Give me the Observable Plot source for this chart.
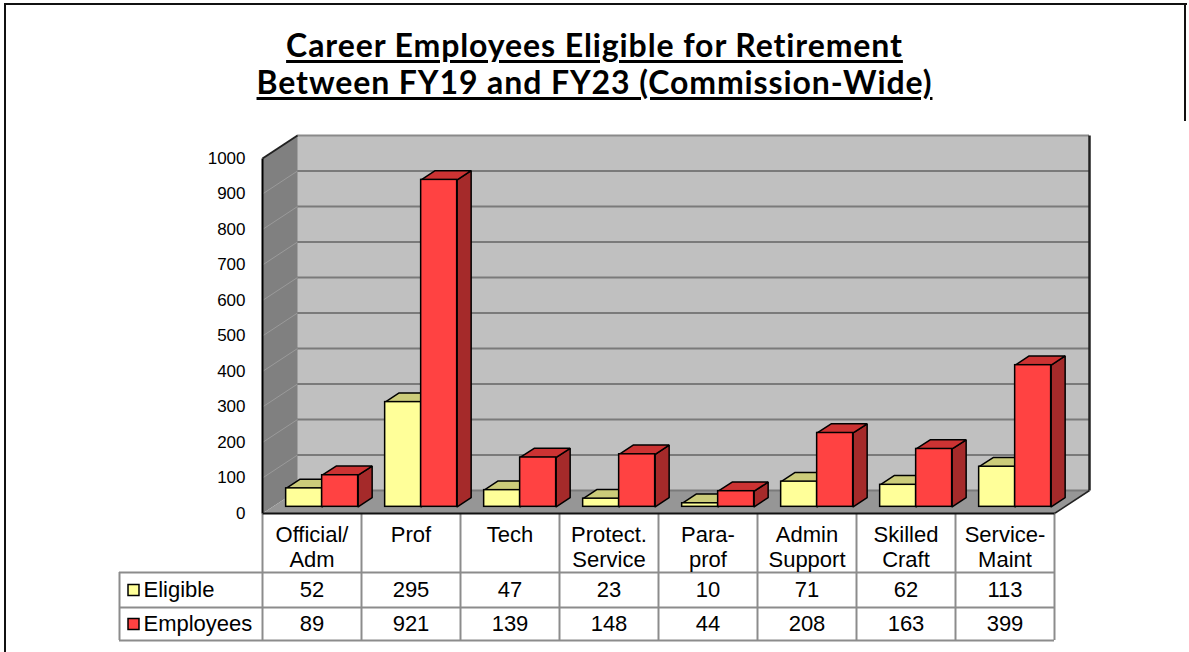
<!DOCTYPE html>
<html><head><meta charset="utf-8">
<script src="https://cdn.jsdelivr.net/npm/d3@7"></script>
<script src="https://cdn.jsdelivr.net/npm/@observablehq/plot@0.6"></script>
<style>
body{margin:0;background:#fff;}
#wrap{position:relative;width:1189px;height:652px;overflow:hidden;background:#fff;}
#frame{position:absolute;left:4px;top:3px;width:1181px;height:700px;border-left:2px solid #111;border-top:2px solid #111;}
#rframe{position:absolute;left:1184px;top:3px;width:2px;height:118px;background:#111}
#title{position:relative;height:110px;box-sizing:border-box;padding-top:26px;text-align:center;font:bold 32px Lato, sans-serif;letter-spacing:0.9px;line-height:37px;color:#000;}
#title span{text-decoration:underline;text-decoration-thickness:3px;text-underline-offset:3px}
#chart{position:relative}
</style></head>
<body><div id="wrap"><div id="frame"></div><div id="rframe"></div>
<div id="title"><span>Career Employees Eligible for Retirement</span><br><span>Between FY19 and FY23 (Commission-Wide)</span></div>
<div id="chart"></div></div>
<script>
// ---- data ----
const categories = ["Official/\nAdm","Prof","Tech","Protect.\nService","Para-\nprof","Admin\nSupport","Skilled\nCraft","Service-\nMaint"];
const seriesNames = ["Eligible","Employees"];
const eligible = [52,295,47,23,10,71,62,113];
const employees = [89,921,139,148,44,208,163,399];
const yTicks = [0,100,200,300,400,500,600,700,800,900,1000];
const seriesColors = {
  Eligible: {front:"#ffff99", top:"#cccc7a", side:"#b3b36b"},
  Employees: {front:"#ff4242", top:"#cc3333", side:"#a52a2a"}
};

// ---- 3D geometry (in scale units) ----
const pxPerUnitY = 355/1000;
const DX = 35/99, DY = 23/pxPerUnitY;     // depth of the box
const f0 = 0.29, f1 = 0.69;               // bar depth placement
const w = 36/99;                          // bar width in category units
const below = p => -p/pxPerUnitY;         // pixels below floor -> y units
const n = categories.length;
const FONT = "Arial, 'Liberation Sans', sans-serif";

function poly(pts, id){ return pts.concat([pts[0]]).map(([x,y]) => ({x,y,id})); }

const walls = {
  side: poly([[0,0],[DX,DY],[DX,1000+DY],[0,1000]],"side"),
  floor: poly([[0,0],[n,0],[n+DX,DY],[DX,DY]],"floor")
};

function barFaces(vals, s){
  const fronts=[], tops=[], sides=[];
  const b0 = f0*DY, dDX=(f1-f0)*DX, dDY=(f1-f0)*DY;
  vals.forEach((v,i)=>{
    const L = i + 0.5 - w + s*w + f0*DX;
    fronts.push({x1:L, x2:L+w, y1:b0, y2:v+b0});
    tops.push(...poly([[L,v+b0],[L+w,v+b0],[L+w+dDX,v+b0+dDY],[L+dDX,v+b0+dDY]],"t"+i));
    sides.push(...poly([[L+w,b0],[L+w+dDX,b0+dDY],[L+w+dDX,v+b0+dDY],[L+w,v+b0]],"s"+i));
  });
  return {fronts,tops,sides};
}

const barMarks = [];
[eligible, employees].forEach((vals,s)=>{
  const c = seriesColors[seriesNames[s]];
  const f = barFaces(vals,s);
  barMarks.push(
    Plot.line(f.sides,{x:"x",y:"y",z:"id",fill:c.side,stroke:"#000",strokeWidth:1.5,strokeLinejoin:"miter"}),
    Plot.line(f.tops,{x:"x",y:"y",z:"id",fill:c.top,stroke:"#000",strokeWidth:1.5,strokeLinejoin:"miter"}),
    Plot.rect(f.fronts,{x1:"x1",x2:"x2",y1:"y1",y2:"y2",fill:c.front,stroke:"#000",strokeWidth:1.5})
  );
});

// table layout (pixel offsets below the floor front edge)
const rowLines = [59,94,127];
const tableLeft = -143/99;
const rowCenters = [76.5,110.5];
const tableRows = [];
[eligible, employees].forEach((vals,s)=>vals.forEach((v,i)=>tableRows.push({x:i+0.5,y:below(rowCenters[s]),v})));
const legendRows = seriesNames.map((name,s)=>({name, y:below(rowCenters[s]), color:seriesColors[name].front}));

const chart = Plot.plot({
  width:1189, height:542, margin:0,
  style:{background:"transparent", overflow:"visible"},
  x:{type:"linear", domain:[0,n], range:[262,1054], axis:null},
  y:{domain:[0,1000], range:[403,48], axis:null},
  marks:[
    // back wall
    Plot.rect([0],{x1:DX,x2:n+DX,y1:DY,y2:1000+DY,fill:"#c0c0c0"}),
    Plot.line(walls.side,{x:"x",y:"y",z:"id",fill:"#808080"}),
    Plot.line(walls.floor,{x:"x",y:"y",z:"id",fill:"#969696"}),
    // gridlines on back wall
    Plot.ruleY(yTicks.slice(0,-1),{y:d=>d+DY,x1:DX,x2:n+DX,stroke:"#7a7a7a",strokeWidth:2}),
    Plot.ruleY([1000],{y:d=>d+DY,x1:DX,x2:n+DX,stroke:"#8a8a8a",strokeWidth:2}),
    // gridlines on side wall
    Plot.link(yTicks.slice(1,-1),{x1:0,y1:d=>d,x2:DX,y2:d=>d+DY,stroke:"#9a9a9a",strokeWidth:1}),
    // box edges
    Plot.link([0],{x1:0,y1:0,x2:0,y2:1000,stroke:"#000",strokeWidth:2}),
    Plot.link([0],{x1:0,y1:1000,x2:DX,y2:1000+DY,stroke:"#222",strokeWidth:2}),
    Plot.link([0],{x1:n+DX,y1:DY,x2:n+DX,y2:1000+DY,stroke:"#222",strokeWidth:2.5}),
    Plot.link([0],{x1:n,y1:0,x2:n+DX,y2:DY,stroke:"#222",strokeWidth:1.5}),
    ...barMarks,
    // y tick labels
    Plot.text(yTicks,{x:0,y:d=>d,text:d=>String(d),dx:-17,textAnchor:"end",fontSize:17,fontFamily:FONT,fill:"#000"}),
    // data table grid
    Plot.ruleX(d3.range(n+1),{x:d=>d,y1:0,y2:below(127),stroke:"#8c8c8c",strokeWidth:2}),
    Plot.ruleX([tableLeft],{y1:below(59),y2:below(127),stroke:"#8c8c8c",strokeWidth:2}),
    Plot.ruleY(rowLines,{y:d=>below(d),x1:tableLeft,x2:n,stroke:"#8c8c8c",strokeWidth:2}),
    // floor front edge on top
    Plot.link([0],{x1:0,y1:0,x2:n,y2:0,stroke:"#111",strokeWidth:2}),
    // header cells (top-aligned)
    Plot.text(categories,{x:(d,i)=>i+0.5,y:below(10.5),text:d=>d,lineAnchor:"top",fontSize:22,lineHeight:1.14,fontFamily:FONT,fill:"#000"}),
    // values
    Plot.text(tableRows,{x:"x",y:"y",text:d=>String(d.v),fontSize:22,fontFamily:FONT,fill:"#000"}),
    // legend keys
    Plot.dot(legendRows,{x:tableLeft,y:"y",dx:14,symbol:"square",r:6.2,fill:"color",stroke:"#000",strokeWidth:1.5}),
    Plot.text(legendRows,{x:tableLeft,y:"y",dx:24,text:"name",textAnchor:"start",fontSize:22,fontFamily:FONT,fill:"#000"})
  ]
});
document.getElementById("chart").appendChild(chart);
</script>
</body></html>
